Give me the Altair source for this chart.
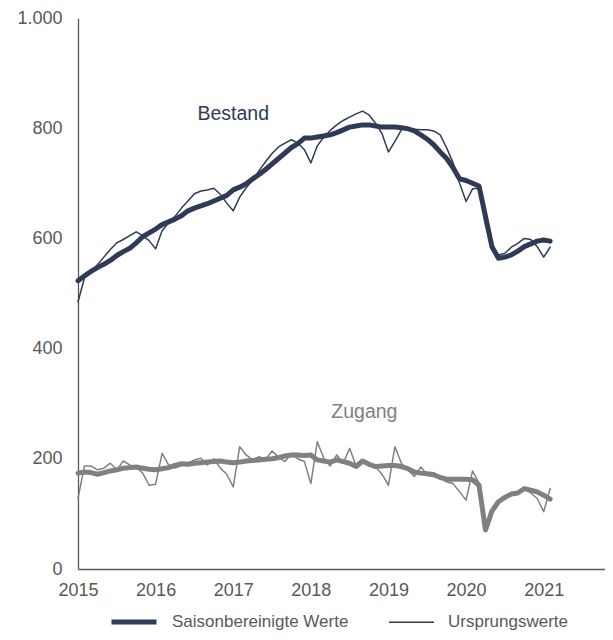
import altair as alt
import pandas as pd

FONT = "Liberation Sans"
NAVY = "#2F3B56"
GREY = "#808080"
TXT = "#595959"

start_year = 2015

bestand_sa = [
    523, 532, 540, 547, 553, 560, 569, 576, 582, 592, 603, 610,
    617, 625, 630, 635, 641, 650, 655, 659, 663, 668, 673, 678,
    688, 693, 699, 708, 716, 725, 735, 745, 755, 765, 772, 782,
    782, 784, 786, 788, 792, 797, 802, 804, 806, 806, 804, 802,
    802, 802, 801, 799, 795, 788, 780, 770, 757, 745, 728, 708,
    705, 700, 695, 640, 585, 564, 566, 570, 577, 585, 590, 595,
    597, 595,
]
bestand_orig = [
    485, 528, 540, 552, 566, 580, 592, 598, 605, 612, 605, 596,
    581, 614, 628, 640, 655, 668, 681, 686, 688, 691, 680, 664,
    650, 675, 692, 706, 723, 739, 754, 766, 773, 779, 773, 761,
    737, 768, 784, 796, 806, 814, 820, 826, 831, 824, 809, 790,
    757, 776, 797, 800, 798, 797, 797, 795, 788, 764, 737, 700,
    667, 690, 691, 626, 584, 570, 573, 584, 591, 600, 598, 585,
    566, 584,
]
zugang_sa = [
    174, 176, 175, 172, 175, 178, 180, 183, 184, 185, 183, 181,
    180, 182, 184, 188, 191, 190, 192, 193, 194, 195, 196, 194,
    193, 194, 196, 197, 198, 199, 200, 202, 205, 207, 207, 206,
    207, 198, 196, 194, 198, 195, 192, 186, 196, 190, 186, 187,
    188, 188, 186, 182, 176, 174, 173, 171, 166, 163, 163, 163,
    163, 162, 152, 71, 105, 122, 130, 136, 138, 146, 143, 140,
    134, 127,
]
zugang_orig = [
    128, 187, 187, 180, 183, 192, 180, 196, 189, 185, 174, 152,
    154, 210, 189, 183, 188, 192, 198, 201, 189, 200, 183, 172,
    149, 222, 207, 198, 204, 199, 214, 203, 195, 209, 200, 195,
    155, 231, 201, 187, 207, 192, 219, 187, 195, 188, 185, 172,
    152, 222, 192, 180, 168, 185, 171, 175, 165, 158, 155, 140,
    125, 178, 156, 71, 102, 120, 128, 135, 140, 148, 138, 128,
    104, 146,
]

series_names = ["Bestand", "Zugang"]
type_names = ["Saisonbereinigte Werte", "Ursprungswerte"]
x_ticks = [2015, 2016, 2017, 2018, 2019, 2020, 2021]
y_ticks = [0, 200, 400, 600, 800, 1000]

label_text = ["Bestand", "Zugang"]
label_t = [2017.0, 2018.69]
label_v = [826, 285]

rows = []
for serie, typ, vals in [
    ("Bestand", "Saisonbereinigte Werte", bestand_sa),
    ("Bestand", "Ursprungswerte", bestand_orig),
    ("Zugang", "Saisonbereinigte Werte", zugang_sa),
    ("Zugang", "Ursprungswerte", zugang_orig),
]:
    for i, v in enumerate(vals):
        rows.append({"t": start_year + i / 12, "v": v, "serie": serie, "typ": typ,
                     "key": serie + "|" + typ})
df = pd.DataFrame(rows)
lab_df = pd.DataFrame({"t": label_t, "v": label_v, "label": label_text, "serie": label_text})

color_scale = alt.Scale(domain=series_names, range=[NAVY, GREY])

x_enc = alt.X("t:Q", scale=alt.Scale(domain=[2015, 2021.79], nice=False, zero=False),
              axis=alt.Axis(values=x_ticks, format="d", title=None, ticks=False, grid=False,
                            labelFlush=False, labelOverlap=False, labelPadding=12))
y_enc = alt.Y("v:Q", scale=alt.Scale(domain=[0, 1000], nice=False),
              axis=alt.Axis(values=y_ticks, title=None, ticks=False, grid=False,
                            labelExpr="replace(format(datum.value, ','), ',', '.')",
                            labelPadding=16, labelFlush=False))

lines = alt.Chart(df).mark_line(strokeCap="round", strokeJoin="round").encode(
    x=x_enc,
    y=y_enc,
    color=alt.Color("serie:N", scale=color_scale, legend=None),
    strokeWidth=alt.StrokeWidth(
        "typ:N",
        scale=alt.Scale(domain=type_names, range=[5, 1.5]),
        legend=alt.Legend(
            title=None, orient="none", legendX=31, legendY=579, direction="horizontal",
            symbolType="stroke", symbolSize=2025, symbolStrokeColor=NAVY,
            labelFont=FONT, labelFontSize=17, labelColor=TXT, labelOffset=13,
            labelLimit=0, columnPadding=37,
        ),
    ),
    detail="key:N",
)

texts = alt.Chart(lab_df).mark_text(font=FONT, fontSize=19.5).encode(
    x=alt.X("t:Q"),
    y=alt.Y("v:Q"),
    text="label:N",
    color=alt.Color("serie:N", scale=color_scale, legend=None),
)

chart = alt.layer(lines, texts).properties(
    width=527, height=551,
    autosize=alt.AutoSizeParams(type="none"),
    padding={"left": 70, "top": 10, "right": 0, "bottom": 63},
).configure_view(stroke=None).configure_axis(
    domainColor=TXT, domainWidth=1.3, labelFont=FONT, labelFontSize=18, labelColor=TXT,
)

chart.save("out.html", embed_options={"renderer": "svg", "actions": False})
